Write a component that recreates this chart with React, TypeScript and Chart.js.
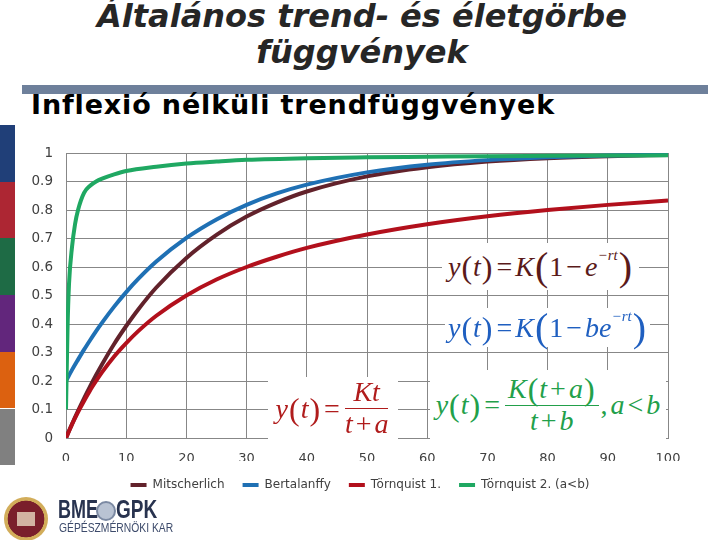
import React, { useEffect, useRef } from "react";
import { Chart, registerables } from "chart.js";

Chart.register(...registerables);

// ---- data ----
const tGrid = [0, 1, 2, 3, 4, 5, 6, 8, 10, 12, 15, 20, 25, 30, 35, 40, 50, 60, 70, 80, 90, 100];
const mitscherlich = [0, 0.049, 0.095, 0.139, 0.181, 0.221, 0.259, 0.33, 0.393, 0.451, 0.528, 0.632, 0.713, 0.777, 0.826, 0.865, 0.918, 0.95, 0.97, 0.982, 0.989, 0.993];
const bertalanffy = [0.2, 0.239, 0.275, 0.31, 0.343, 0.375, 0.405, 0.461, 0.512, 0.558, 0.619, 0.702, 0.767, 0.818, 0.858, 0.889, 0.932, 0.959, 0.975, 0.985, 0.991, 0.994];
const tornquist1 = [0, 0.048, 0.091, 0.13, 0.167, 0.2, 0.231, 0.286, 0.333, 0.375, 0.429, 0.5, 0.556, 0.6, 0.636, 0.667, 0.714, 0.75, 0.778, 0.8, 0.818, 0.833];
const tGreen = [0, 0.25, 0.5, 1, 1.5, 2, 3, 4, 5, 6, 8, 10, 15, 20, 25, 30, 40, 50, 60, 70, 80, 90, 100];
const tornquist2 = [0.1, 0.38, 0.54, 0.67, 0.75, 0.8, 0.86, 0.885, 0.9, 0.91, 0.925, 0.937, 0.952, 0.963, 0.97, 0.976, 0.982, 0.985, 0.987, 0.989, 0.99, 0.991, 0.992];

const seriesNames = ["Mitscherlich", "Bertalanffy", "Törnquist 1.", "Törnquist 2. (a<b)"];
const seriesColors = ["#62222b", "#1f70b4", "#b2101c", "#1fa862"];
const xTickLabels = ["0", "10", "20", "30", "40", "50", "60", "70", "80", "90", "100"];
const yTickLabels = ["0", "0.1", "0.2", "0.3", "0.4", "0.5", "0.6", "0.7", "0.8", "0.9", "1"];

const stripColors = ["#203f78", "#ad2633", "#1e6b45", "#62267c", "#dc6110", "#808080"];

const pts = (xs: number[], ys: number[]) => xs.map((x, i) => ({ x, y: ys[i] }));

function ChartCanvas() {
  const ref = useRef<HTMLCanvasElement | null>(null);
  useEffect(() => {
    if (!ref.current) return;
    Chart.defaults.font.family = "'DejaVu Sans', sans-serif";
    const sets = [
      pts(tGrid, mitscherlich),
      pts(tGrid, bertalanffy),
      pts(tGrid, tornquist1),
      pts(tGreen, tornquist2),
    ];
    const chart = new Chart(ref.current, {
      type: "line",
      data: {
        datasets: sets.map((d, i) => ({
          label: seriesNames[i],
          data: d,
          borderColor: seriesColors[i],
          backgroundColor: seriesColors[i],
          borderWidth: 4,
          pointRadius: 0,
          fill: false,
          cubicInterpolationMode: "monotone" as const,
          order: 4 - i,
        })),
      },
      options: {
        animation: false,
        responsive: false,
        devicePixelRatio: 1,
        layout: { padding: { top: 153, left: 0, right: 0, bottom: 39 } },
        plugins: {
          tooltip: { enabled: false },
          legend: {
            position: "bottom",
            labels: {
              boxWidth: 16,
              boxHeight: 4,
              padding: 18,
              color: "#404040",
              font: { size: 12, family: "'DejaVu Sans', sans-serif" },
              sort: (a: any, b: any) => a.datasetIndex - b.datasetIndex,
              generateLabels: (c: any) =>
                Chart.defaults.plugins.legend.labels.generateLabels(c).map((l: any) => ({ ...l, lineWidth: 0 })),
            },
          },
        },
        scales: {
          x: {
            type: "linear",
            position: "bottom",
            min: 0,
            max: 100,
            grid: { color: "#878787", drawTicks: false },
            border: { color: "#878787" },
            ticks: {
              stepSize: 10,
              padding: 13,
              color: "#404040",
              font: { size: 13 },
              callback: (_v: any, i: number) => xTickLabels[i],
            },
            afterFit: (s: any) => {
              s.height = 23;
            },
          },
          y: {
            type: "linear",
            position: "left",
            min: 0,
            max: 1,
            grid: { color: "#878787", drawTicks: false },
            border: { color: "#878787" },
            ticks: {
              stepSize: 0.1,
              padding: 13,
              color: "#404040",
              font: { size: 13.5 },
              callback: (_v: any, i: number) => yTickLabels[i],
            },
            afterFit: (s: any) => {
              s.width = 66;
            },
          },
          y2: {
            type: "linear",
            position: "right",
            min: 0,
            max: 1,
            grid: { display: false },
            border: { display: false },
            ticks: { display: false },
            afterFit: (s: any) => {
              s.width = 52;
            },
          },
        },
      } as any,
    });
    return () => chart.destroy();
  }, []);
  return <canvas ref={ref} width={720} height={540} style={{ position: "absolute", left: 0, top: 0 }} />;
}

const I = ({ c }: { c: string }) => <span style={{ fontStyle: "italic" }}>{c}</span>;
const P = ({ c, s }: { c: string; s: number }) => (
  <span style={{ fontSize: s, lineHeight: 1, fontStyle: "normal", margin: "0 1px" }}>{c}</span>
);
const Op = ({ c }: { c: string }) => <span style={{ margin: "0 3px" }}>{c}</span>;
const Sup = ({ c }: { c: string }) => (
  <span style={{ fontSize: 15, fontStyle: "italic", position: "relative", top: -11 }}>{c}</span>
);
const Frac = ({ n, d }: { n: React.ReactNode; d: React.ReactNode }) => (
  <span style={{ display: "inline-flex", flexDirection: "column", alignItems: "center", margin: "0 2px" }}>
    <span style={{ display: "flex", alignItems: "center", padding: "0 3px", lineHeight: 1.1 }}>{n}</span>
    <span style={{ alignSelf: "stretch", borderTop: "1.5px solid currentColor" }} />
    <span style={{ display: "flex", alignItems: "center", lineHeight: 1.1 }}>{d}</span>
  </span>
);

function Formula({ x, y, w, h, color, children }: any) {
  return (
    <div
      style={{
        position: "absolute",
        left: x,
        top: y,
        width: w,
        height: h,
        background: "#fff",
        color,
        display: "flex",
        alignItems: "center",
        justifyContent: "center",
        fontFamily: "'Liberation Serif', serif",
        fontSize: 28,
        whiteSpace: "nowrap",
      }}
    >
      {children}
    </div>
  );
}

export default function App() {
  return (
    <div
      style={{
        position: "absolute",
        left: 0,
        top: 0,
        width: 720,
        height: 540,
        overflow: "hidden",
        background: "#fff",
        fontFamily: "'DejaVu Sans', sans-serif",
      }}
    >
      {/* left coloured strip */}
      {stripColors.map((c, i) => (
        <div key={i} style={{ position: "absolute", left: 0, top: 125 + i * 56.7, width: 15, height: 56.7, background: c }} />
      ))}
      {/* title */}
      <div style={{ position: "absolute", left: 2, top: 0, width: 720, textAlign: "center", fontSize: 32, lineHeight: "32px", fontWeight: "bold", fontStyle: "italic", color: "#262626" }}>
        Általános trend- és életgörbe
      </div>
      <div style={{ position: "absolute", left: 2, top: 36, width: 720, textAlign: "center", fontSize: 32, lineHeight: "32px", fontWeight: "bold", fontStyle: "italic", color: "#262626" }}>
        függvények
      </div>
      <div style={{ position: "absolute", left: 22, top: 85, width: 686, height: 9, background: "#6e809b" }} />
      <div style={{ position: "absolute", left: 31, top: 91, fontSize: 27, lineHeight: "27px", fontWeight: "bold", color: "#000", letterSpacing: 0.85, whiteSpace: "nowrap" }}>
        Inflexió nélküli trendfüggvények
      </div>

      <ChartCanvas />

      {/* formulas */}
      <Formula x={442} y={243} w={197} h={47} color="#5a1a1a">
        <I c="y" /><P c="(" s={32} /><I c="t" /><P c=")" s={32} /><Op c="=" /><I c="K" /><P c="(" s={40} />
        <span>1</span><Op c="−" /><I c="e" /><Sup c="−rt" /><P c=")" s={40} />
      </Formula>
      <Formula x={445} y={308} w={205} h={39} color="#1f5fc0">
        <I c="y" /><P c="(" s={32} /><I c="t" /><P c=")" s={32} /><Op c="=" /><I c="K" /><P c="(" s={40} />
        <span>1</span><Op c="−" /><I c="b" /><I c="e" /><Sup c="−rt" /><P c=")" s={40} />
      </Formula>
      <Formula x={268} y={377} w={130} h={63} color="#b01c1c">
        <I c="y" /><P c="(" s={32} /><I c="t" /><P c=")" s={32} /><Op c="=" />
        <Frac n={<I c="Kt" />} d={<><I c="t" /><Op c="+" /><I c="a" /></>} />
      </Formula>
      <Formula x={430} y={370} w={236} h={70} color="#22a04a">
        <I c="y" /><P c="(" s={32} /><I c="t" /><P c=")" s={32} /><Op c="=" />
        <Frac
          n={<><I c="K" /><P c="(" s={32} /><I c="t" /><Op c="+" /><I c="a" /><P c=")" s={32} /></>}
          d={<><I c="t" /><Op c="+" /><I c="b" /></>}
        />
        <span>,</span><span style={{ marginLeft: 3 }}><I c="a" /></span><Op c="<" /><I c="b" />
      </Formula>

      {/* logo */}
      <div style={{ position: "absolute", left: 4, top: 497, width: 44, height: 44, borderRadius: "50%", background: "radial-gradient(circle, #7a1f2b 0 58%, #d2ad5a 60% 78%, #a7803a 80% 100%)" }}>
        <div style={{ position: "absolute", left: 13, top: 15, width: 18, height: 14, background: "#e8d8c0", opacity: 0.8 }} />
      </div>
      <div style={{ position: "absolute", left: 58, top: 497, fontFamily: "'Liberation Sans', sans-serif", fontWeight: "bold", fontSize: 25, lineHeight: "25px", color: "#28334f", transform: "scaleX(0.72)", transformOrigin: "left top", whiteSpace: "nowrap" }}>
        BME
      </div>
      <div style={{ position: "absolute", left: 96, top: 501, width: 16, height: 16, borderRadius: "50%", border: "2px solid #7c8aa3", background: "#b9c3d3" }} />
      <div style={{ position: "absolute", left: 116, top: 497, fontFamily: "'Liberation Sans', sans-serif", fontWeight: "bold", fontSize: 25, lineHeight: "25px", color: "#28334f", transform: "scaleX(0.76)", transformOrigin: "left top", whiteSpace: "nowrap" }}>
        GPK
      </div>
      <div style={{ position: "absolute", left: 59, top: 522, fontFamily: "'Liberation Sans', sans-serif", fontSize: 12, lineHeight: "12px", color: "#3d4b6b", transform: "scaleX(0.86)", transformOrigin: "left top", whiteSpace: "nowrap" }}>
        GÉPÉSZMÉRNÖKI KAR
      </div>
    </div>
  );
}
